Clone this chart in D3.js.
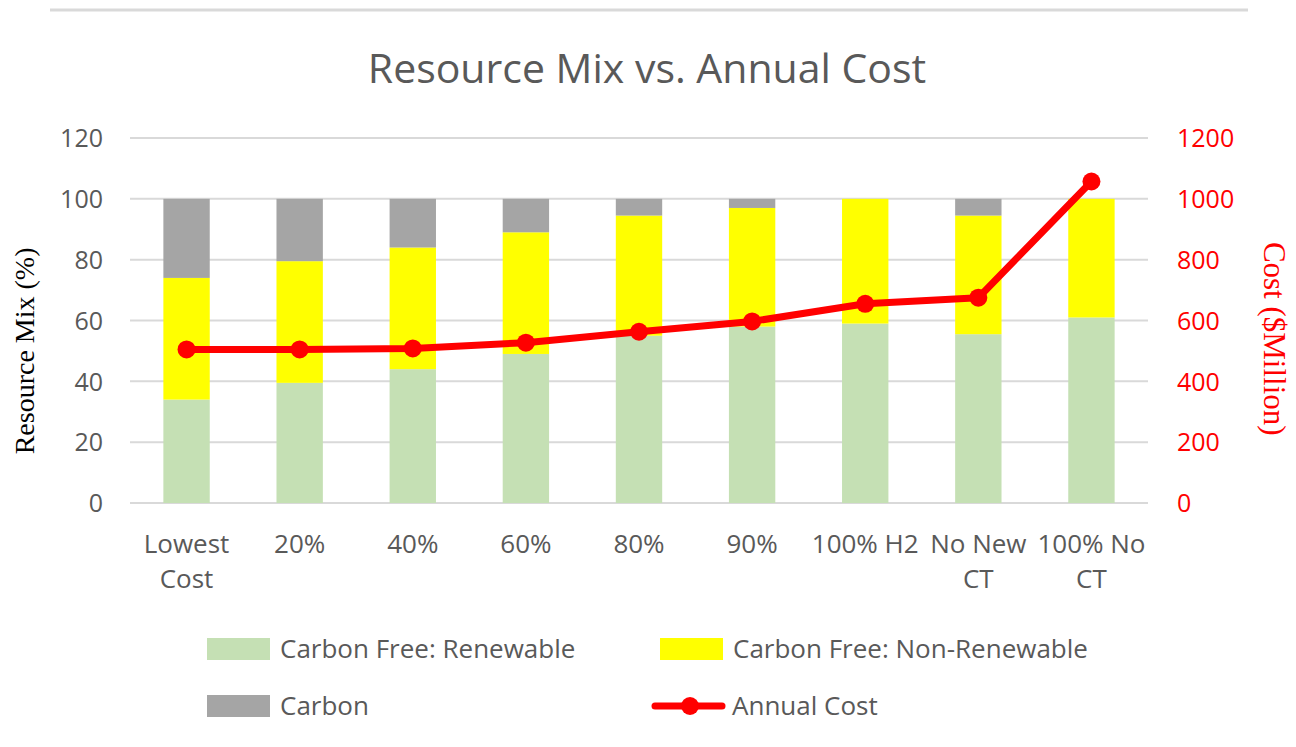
<!DOCTYPE html>
<html>
<head>
<meta charset="utf-8">
<script src="https://cdn.jsdelivr.net/npm/d3@7"></script>
<style>
  body { margin: 0; background: #fff; }
  svg text { font-family: "Open Sans", sans-serif; }
</style>
</head>
<body>
<div id="root"></div>
<script>
// data
var categories = ["Lowest Cost", "20%", "40%", "60%", "80%", "90%", "100% H2", "No New CT", "100% No CT"];
var renewable = [34, 39.5, 44, 49, 55, 58, 59, 55.5, 61];
var nonRenewable = [40, 40, 40, 40, 39.5, 39, 41, 39, 39];
var carbon = [26, 20.5, 16, 11, 5.5, 3, 0, 5.5, 0];
var annualCost = [505, 505, 508, 527, 563, 597, 655, 675, 1057];
var leftTicks = [0, 20, 40, 60, 80, 100, 120];
var rightTicks = [0, 200, 400, 600, 800, 1000, 1200];

var seriesNames = ["Carbon Free: Renewable", "Carbon Free: Non-Renewable", "Carbon"];
var seriesColors = ["#c5e0b4", "#ffff00", "#a5a5a5"];

var width = 1296, height = 747;
var margin = { top: 138, bottom: 244, left: 130, right: 148 };

var rows = categories.map(function (c, i) {
  return { cat: c, r: renewable[i], n: nonRenewable[i], c: carbon[i] };
});
var stacked = d3.stack().keys(["r", "n", "c"])(rows);

var svg = d3.select("#root").append("svg")
  .attr("width", width).attr("height", height);

var x = d3.scaleBand()
  .domain(categories)
  .range([margin.left, width - margin.right])
  .paddingInner(0.59)
  .paddingOuter(0.295);

var y = d3.scaleLinear().domain([0, 120]).range([height - margin.bottom, margin.top]);
var y2 = d3.scaleLinear().domain([0, 1200]).range([height - margin.bottom, margin.top]);

// top border line
svg.append("line")
  .attr("x1", 50).attr("x2", 1248).attr("y1", 10).attr("y2", 10)
  .attr("stroke", "#d9d9d9").attr("stroke-width", 3);

// title
svg.append("text")
  .attr("x", 647).attr("y", 83)
  .attr("text-anchor", "middle")
  .attr("fill", "#595959")
  .style("font-size", "41px")
  .text("Resource Mix vs. Annual Cost");

// gridlines
svg.append("g")
  .selectAll("line")
  .data(leftTicks)
  .enter().append("line")
  .attr("x1", margin.left).attr("x2", width - margin.right)
  .attr("y1", d => y(d)).attr("y2", d => y(d))
  .attr("stroke", "#d9d9d9").attr("stroke-width", 2);

// bars
svg.append("g")
  .selectAll("g")
  .data(stacked)
  .enter().append("g")
  .attr("fill", (d, i) => seriesColors[i])
  .selectAll("rect")
  .data(d => d)
  .enter().append("rect")
  .attr("x", d => x(d.data.cat))
  .attr("y", d => y(d[1]))
  .attr("height", d => y(d[0]) - y(d[1]))
  .attr("width", x.bandwidth());

// left axis
var leftAxis = svg.append("g")
  .attr("transform", `translate(${margin.left - 27},0)`)
  .call(d3.axisLeft(y).tickValues(leftTicks).tickSize(0).tickPadding(0));
leftAxis.select(".domain").remove();
leftAxis.selectAll("text").attr("fill", "#595959").style("font-size", "25px").attr("dy", "0.35em");

// right axis
var rightAxis = svg.append("g")
  .attr("transform", `translate(${width - margin.right + 29},0)`)
  .call(d3.axisRight(y2).tickValues(rightTicks).tickFormat(d3.format("d")).tickSize(0).tickPadding(0));
rightAxis.select(".domain").remove();
rightAxis.selectAll("text").attr("fill", "#ff0000").style("font-size", "25px").attr("dy", "0.35em");

// x labels, wrapped like the original
var xLabels = svg.append("g")
  .selectAll("text")
  .data(categories)
  .enter().append("text")
  .attr("text-anchor", "middle")
  .attr("fill", "#595959")
  .style("font-size", "26px")
  .attr("x", d => x(d) + x.bandwidth() / 2)
  .attr("y", 553);
xLabels.each(function (d) {
  var parts;
  if (d == "Lowest Cost") parts = ["Lowest", "Cost"];
  else if (d == "No New CT") parts = ["No New", "CT"];
  else if (d == "100% No CT") parts = ["100% No", "CT"];
  else parts = [d];
  var t = d3.select(this);
  parts.forEach(function (p, k) {
    t.append("tspan")
      .attr("x", t.attr("x"))
      .attr("dy", k == 0 ? 0 : 35)
      .text(p);
  });
});

// axis titles
svg.append("text")
  .attr("transform", "translate(34," + (y(50)) + ") rotate(-90)")
  .attr("text-anchor", "middle")
  .style("font-family", "'Liberation Serif', serif")
  .style("font-size", "28px")
  .attr("fill", "#000")
  .text("Resource Mix (%)");

svg.append("text")
  .attr("transform", "translate(1264," + (y(54)) + ") rotate(90)")
  .attr("text-anchor", "middle")
  .style("font-family", "'Liberation Serif', serif")
  .style("font-size", "31px")
  .attr("fill", "#ff0000")
  .text("Cost ($Million)");

// cost line
var line = d3.line()
  .x((d, i) => x(categories[i]) + x.bandwidth() / 2)
  .y(d => y2(d));

svg.append("path")
  .datum(annualCost)
  .attr("fill", "none")
  .attr("stroke", "#ff0000")
  .attr("stroke-width", 7)
  .attr("stroke-linejoin", "round")
  .attr("d", line);

svg.append("g")
  .selectAll("circle")
  .data(annualCost)
  .enter().append("circle")
  .attr("cx", (d, i) => x(categories[i]) + x.bandwidth() / 2)
  .attr("cy", d => y2(d))
  .attr("r", 9)
  .attr("fill", "#ff0000");

// legend
var legendItems = [
  { name: seriesNames[0], color: seriesColors[0], type: "rect", x: 207, y: 649 },
  { name: seriesNames[1], color: seriesColors[1], type: "rect", x: 660, y: 649 },
  { name: seriesNames[2], color: seriesColors[2], type: "rect", x: 207, y: 706 },
  { name: "Annual Cost", color: "#ff0000", type: "line", x: 655, y: 706 }
];
var legend = svg.append("g");
legendItems.forEach(function (it) {
  if (it.type == "rect") {
    legend.append("rect")
      .attr("x", it.x).attr("y", it.y - 11)
      .attr("width", 63).attr("height", 22)
      .attr("fill", it.color);
  } else {
    legend.append("line")
      .attr("x1", it.x).attr("x2", it.x + 67)
      .attr("y1", it.y).attr("y2", it.y)
      .attr("stroke", it.color).attr("stroke-width", 7)
      .attr("stroke-linecap", "round");
    legend.append("circle")
      .attr("cx", it.x + 35).attr("cy", it.y).attr("r", 9)
      .attr("fill", it.color);
  }
  legend.append("text")
    .attr("x", it.type == "rect" ? it.x + 73 : it.x + 77)
    .attr("y", it.y)
    .attr("dy", "0.35em")
    .attr("fill", "#595959")
    .style("font-size", "26px")
    .text(it.name);
});
</script>
</body>
</html>
